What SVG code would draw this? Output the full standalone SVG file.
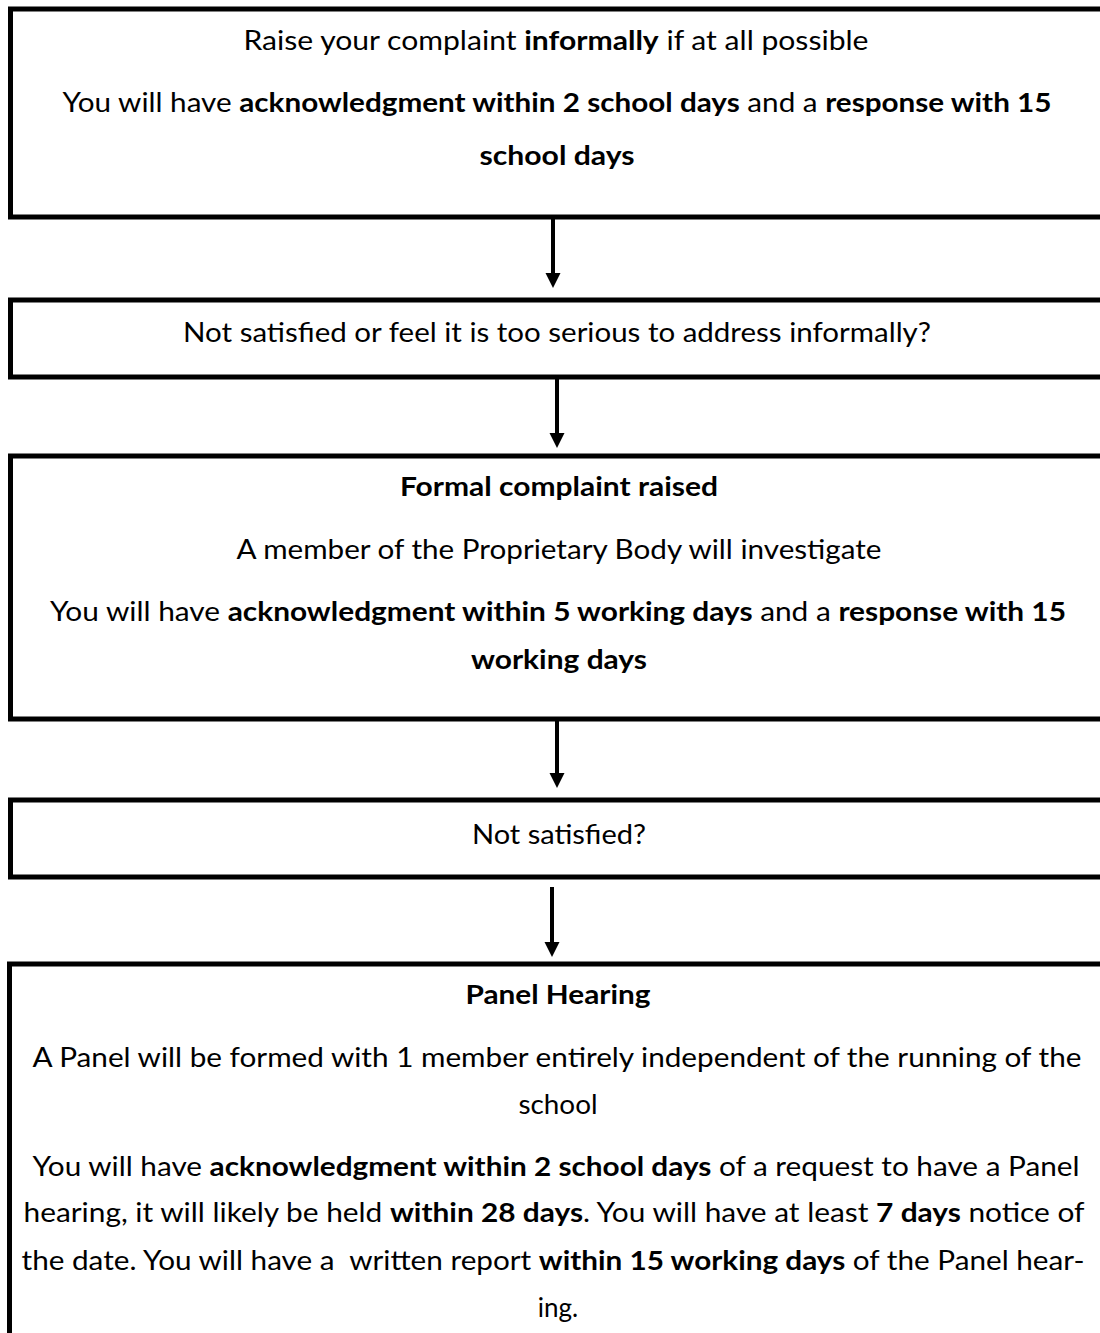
<svg xmlns="http://www.w3.org/2000/svg" width="1100" height="1333" viewBox="0 0 1100 1333">
<defs>
<style>
.box{fill:#fff;stroke:#000;stroke-width:5}
.t{font-family:Lato,"Open Sans","Liberation Sans",sans-serif;font-size:26px;fill:#000;text-anchor:middle}
.b{font-weight:bold}
.conn{stroke:#000;stroke-width:4;fill:none}
</style>
<marker id="ah" markerUnits="userSpaceOnUse" viewBox="0 -8 16 16" markerWidth="16" markerHeight="16" refX="0" refY="0" orient="auto">
<path d="M0,-7.5 L15,0 L0,7.5 z" fill="#000"/>
</marker>
</defs>
<rect width="1100" height="1333" fill="#fff"/>
<g id="node1">
<rect class="box" x="10.5" y="9" width="1110" height="208"/>
<text class="t" x="556" y="50" textLength="625" lengthAdjust="spacingAndGlyphs">Raise your complaint <tspan class="b">informally</tspan> if at all possible</text>
<text class="t" x="557" y="112" textLength="989" lengthAdjust="spacingAndGlyphs">You will have <tspan class="b">acknowledgment within 2 school days</tspan> and a <tspan class="b">response with 15</tspan></text>
<text class="t b" x="557" y="165" textLength="155" lengthAdjust="spacingAndGlyphs">school days</text>
</g>
<g id="node2">
<rect class="box" x="10.5" y="300" width="1110" height="77"/>
<text class="t" x="557" y="342" textLength="748" lengthAdjust="spacingAndGlyphs">Not satisfied or feel it is too serious to address informally?</text>
</g>
<g id="node3">
<rect class="box" x="10.5" y="456" width="1110" height="263"/>
<text class="t b" x="559" y="496" textLength="318" lengthAdjust="spacingAndGlyphs">Formal complaint raised</text>
<text class="t" x="559" y="559" textLength="645" lengthAdjust="spacingAndGlyphs">A member of the Proprietary Body will investigate</text>
<text class="t" x="558" y="621" textLength="1016" lengthAdjust="spacingAndGlyphs">You will have <tspan class="b">acknowledgment within 5 working days</tspan> and a <tspan class="b">response with 15</tspan></text>
<text class="t b" x="559" y="669" textLength="176" lengthAdjust="spacingAndGlyphs">working days</text>
</g>
<g id="node4">
<rect class="box" x="10.5" y="800" width="1110" height="77"/>
<text class="t" x="559" y="844" textLength="174" lengthAdjust="spacingAndGlyphs">Not satisfied?</text>
</g>
<g id="node5">
<rect class="box" x="9.5" y="964" width="1110" height="400"/>
<text class="t b" x="558" y="1004" textLength="185" lengthAdjust="spacingAndGlyphs">Panel Hearing</text>
<text class="t" x="557" y="1067" textLength="1049" lengthAdjust="spacingAndGlyphs">A Panel will be formed with 1 member entirely independent of the running of the</text>
<text class="t" x="558" y="1114" textLength="79" lengthAdjust="spacingAndGlyphs">school</text>
<text class="t" x="556" y="1176" textLength="1047" lengthAdjust="spacingAndGlyphs">You will have <tspan class="b">acknowledgment within 2 school days</tspan> of a request to have a Panel</text>
<text class="t" x="554" y="1222" textLength="1061" lengthAdjust="spacingAndGlyphs">hearing, it will likely be held <tspan class="b">within 28 days</tspan>. You will have at least <tspan class="b">7 days</tspan> notice of</text>
<text class="t" x="553" y="1270" textLength="1063" lengthAdjust="spacingAndGlyphs">the date. You will have a&#160; written report <tspan class="b">within 15 working days</tspan> of the Panel hear-</text>
<text class="t" x="558" y="1317">ing.</text>
</g>
<g id="connectors">
<line class="conn" x1="553" y1="219" x2="553" y2="273" marker-end="url(#ah)"/>
<line class="conn" x1="557" y1="379" x2="557" y2="433" marker-end="url(#ah)"/>
<line class="conn" x1="557" y1="721" x2="557" y2="773" marker-end="url(#ah)"/>
<line class="conn" x1="552" y1="887" x2="552" y2="942" marker-end="url(#ah)"/>
</g>
</svg>
